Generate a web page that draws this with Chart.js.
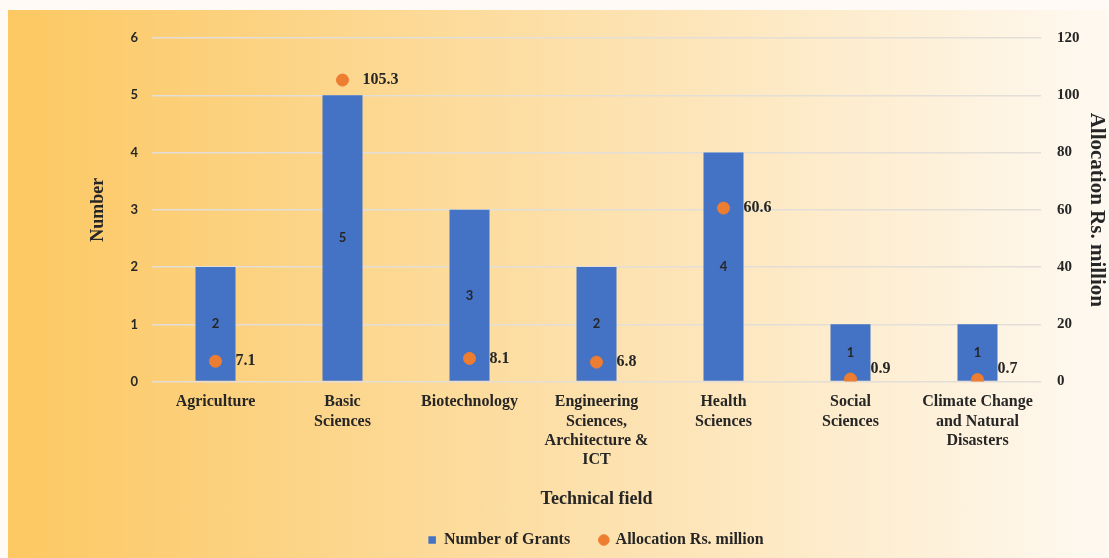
<!DOCTYPE html>
<html>
<head>
<meta charset="utf-8">
<script src="https://cdn.jsdelivr.net/npm/chart.js@4"></script>
<style>
  html, body { margin: 0; padding: 0; background: #fffaf6; }
  body { width: 1109px; height: 558px; position: relative; overflow: hidden; }
  .paneel {
    position: absolute; left: 8px; top: 10px; right: 0; bottom: 0;
    background: linear-gradient(to right, #fcc862 0%, #fcd68c 30%, #fde5b9 62%, #fef9f1 100%);
  }
  .wrap { position: absolute; left: 0; top: 0; width: 1109px; height: 558px; }
</style>
</head>
<body>
<div class="paneel"></div>
<div class="wrap"><canvas id="grantChart" width="1109" height="558"></canvas></div>
<script>
/* Grants per technisch veld: aantal (balk) en toewijzing (punt) */

const VELDEN = [
  ['Agriculture'],
  ['Basic', 'Sciences'],
  ['Biotechnology'],
  ['Engineering', 'Sciences,', 'Architecture &', 'ICT'],
  ['Health', 'Sciences'],
  ['Social', 'Sciences'],
  ['Climate Change', 'and Natural', 'Disasters']
];
const AANTAL_GRANTS = [2, 5, 3, 2, 4, 1, 1];
const TOEWIJZING = [7.1, 105.3, 8.1, 6.8, 60.6, 0.9, 0.7];

const SERIF = '"Liberation Serif", "Times New Roman", serif';
const SANS = 'Lato, "Open Sans", sans-serif';
const INKT = '#262626';

/* ---------- labels op balken en punten ---------- */

const waardeLabels = {
  id: 'waardeLabels',
  afterDatasetsDraw(chart) {
    const ctx = chart.ctx;
    const onder = chart.chartArea.bottom;
    ctx.save();
    ctx.fillStyle = INKT;
    ctx.textBaseline = 'middle';

    // balken: waarde midden in de balk
    chart.getDatasetMeta(0).data.forEach((el, i) => {
      ctx.font = `bold 13px ${SANS}`;
      ctx.textAlign = 'center';
      ctx.fillText(String(AANTAL_GRANTS[i]), el.x, (el.y + el.base) / 2);
    });

    // punten: waarde rechts naast het punt
    chart.getDatasetMeta(1).data.forEach((el, i) => {
      ctx.font = `bold 16px ${SERIF}`;
      ctx.textAlign = 'left';
      ctx.fillText(TOEWIJZING[i].toFixed(1), el.x + 20, Math.min(el.y, onder - 13));
    });
    ctx.restore();
  }
};

new Chart(document.getElementById('grantChart'), {
  type: 'bar',
  data: {
    labels: VELDEN,
    datasets: [
      {
        label: 'Number of Grants',
        data: AANTAL_GRANTS,
        backgroundColor: '#4472c4',
        yAxisID: 'y',
        barPercentage: 0.63,
        categoryPercentage: 0.5,
        pointStyle: 'rect',
        order: 2
      },
      {
        type: 'line',
        label: 'Allocation Rs. million',
        data: TOEWIJZING,
        yAxisID: 'y1',
        showLine: false,
        pointStyle: 'circle',
        pointRadius: 6,
        pointHoverRadius: 6,
        pointBackgroundColor: '#ed7d31',
        pointBorderColor: '#ed7d31',
        backgroundColor: '#ed7d31',
        borderColor: '#ed7d31',
        order: 1
      }
    ]
  },
  options: {
    responsive: false,
    animation: false,
    layout: { padding: { left: 83, right: 0, top: 38, bottom: 0 } },
    plugins: {
      tooltip: { enabled: false },
      legend: {
        position: 'bottom',
        labels: {
          usePointStyle: true,
          boxWidth: 7.5,
          boxHeight: 7.5,
          padding: 30,
          color: INKT,
          sort: (a, b) => a.datasetIndex - b.datasetIndex,
          font: { family: SERIF, size: 16, weight: 'bold', lineHeight: 1 }
        }
      }
    },
    scales: {
      x: {
        grid: { display: false, drawTicks: false },
        border: { display: false },
        ticks: {
          color: INKT,
          autoSkip: false,
          maxRotation: 0,
          padding: 11,
          font: { family: SERIF, size: 16, weight: 'bold', lineHeight: 1.2 }
        },
        title: {
          display: true,
          text: 'Technical field',
          color: INKT,
          font: { family: SERIF, size: 18, weight: 'bold' },
          padding: { top: 8, bottom: -8 }
        }
      },
      y: {
        position: 'left',
        min: 0, max: 6,
        ticks: {
          stepSize: 1,
          color: INKT,
          padding: 14,
          font: { family: SANS, size: 13, weight: 'bold' }
        },
        grid: { color: '#e3ded7', lineWidth: 1.5, drawTicks: false },
        border: { display: false },
        title: {
          display: true,
          text: 'Number',
          color: INKT,
          font: { family: SERIF, size: 18, weight: 'bold' },
          padding: { top: 5, bottom: 4 }
        },
        afterFit(scale) { scale.width = 152 - 83; }
      },
      y1: {
        position: 'right',
        min: 0, max: 120,
        ticks: {
          stepSize: 20,
          color: INKT,
          padding: 16,
          font: { family: SERIF, size: 15, weight: 'bold' }
        },
        grid: { drawOnChartArea: false, drawTicks: false },
        border: { display: false },
        title: {
          display: true,
          text: 'Allocation Rs. million',
          color: INKT,
          font: { family: SERIF, size: 21, weight: 'bold' },
          padding: { top: 0, bottom: 4 }
        },
        afterFit(scale) { scale.width = 1109 - 1041; }
      }
    }
  },
  plugins: [waardeLabels]
});
</script>
</body>
</html>
